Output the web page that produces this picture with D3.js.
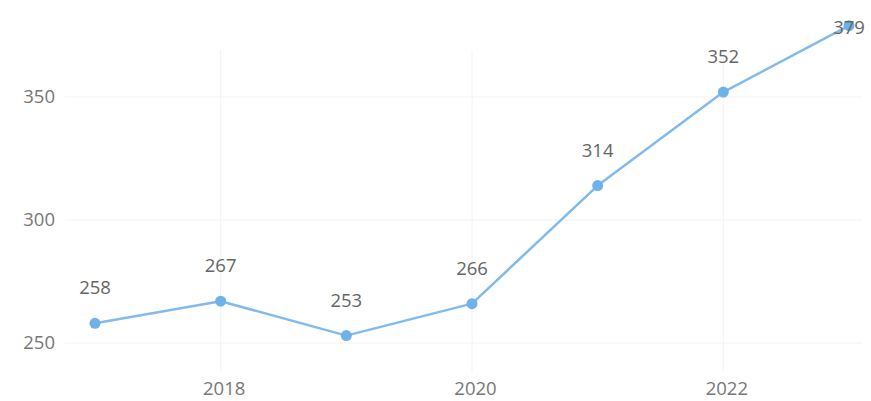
<!DOCTYPE html>
<html><head><meta charset="utf-8">
<script src="https://cdn.jsdelivr.net/npm/d3@7"></script>
<style>body{margin:0;background:#fff}svg{display:block}</style>
</head><body>
<svg id="c" width="871" height="401"></svg>
<script>
const years = [2017, 2018, 2019, 2020, 2021, 2022, 2023];
const values = [258, 267, 253, 266, 314, 352, 379];
const yTicks = [250, 300, 350];
const xTicks = [2018, 2020, 2022];

const svg = d3.select("#c");
const x = d3.scaleLinear().domain([2017, 2023]).range([95, 849]);
const y = d3.scaleLinear().domain([250, 379]).range([343, 25.7]);
const font = "'Open Sans', 'Noto Sans', sans-serif";
const fs = 18.5;

// gridlines
svg.append("g").selectAll("line").data(yTicks).join("line")
  .attr("x1", 65).attr("x2", 862)
  .attr("y1", d => y(d)).attr("y2", d => y(d))
  .attr("stroke", "#f2f2f2").attr("stroke-width", 1);
svg.append("g").selectAll("line").data(xTicks).join("line")
  .attr("x1", d => x(d)).attr("x2", d => x(d))
  .attr("y1", 50).attr("y2", 372)
  .attr("stroke", "#f2f2f2").attr("stroke-width", 1);

// axes (text only)
const ya = svg.append("g").attr("transform", "translate(55,0)")
  .call(d3.axisLeft(y).tickValues(yTicks).tickSize(0).tickPadding(0));
ya.select(".domain").remove();
ya.selectAll("text").attr("font-family", font).attr("font-size", fs).attr("fill", "#777");

const xa = svg.append("g").attr("transform", "translate(3,382)")
  .call(d3.axisBottom(x).tickValues(xTicks).tickFormat(d3.format("d")).tickSize(0).tickPadding(0));
xa.select(".domain").remove();
xa.selectAll("text").attr("font-family", font).attr("font-size", fs).attr("fill", "#777");

// line
const line = d3.line().x((d, i) => x(years[i])).y(d => y(d));
svg.append("path").datum(values).attr("d", line)
  .attr("fill", "none").attr("stroke", "#80bbec").attr("stroke-width", 2.5)
  .attr("stroke-linejoin", "round");

svg.append("g").selectAll("circle").data(values).join("circle")
  .attr("cx", (d, i) => x(years[i])).attr("cy", d => y(d)).attr("r", 5.5)
  .attr("fill", "#6fb2ea");

svg.append("g").selectAll("text").data(values).join("text")
  .attr("x", (d, i) => x(years[i]))
  .attr("y", d => Math.max(y(d) - 29, 34))
  .attr("text-anchor", "middle")
  .attr("font-family", font).attr("font-size", fs).attr("fill", "#666")
  .text(d => d);
</script>
</body></html>
